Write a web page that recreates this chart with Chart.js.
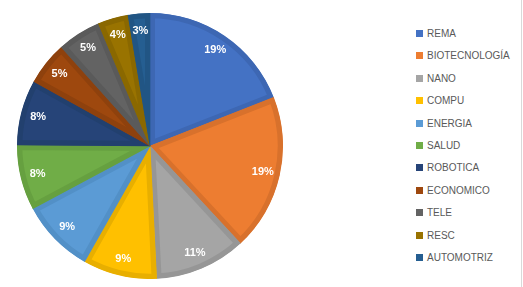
<!DOCTYPE html>
<html>
<head>
<meta charset="utf-8">
<script src="https://cdn.jsdelivr.net/npm/chart.js@4"></script>
<style>
  html, body { margin: 0; padding: 0; background: #fff; }
  #wrap { position: relative; width: 523px; height: 287px; overflow: hidden; }
  #wrap:after { content: ''; position: absolute; left: 521px; top: 0; width: 1px; height: 287px; background: #d9d9d9; }
  #pie { position: absolute; left: 17px; top: 13px; width: 266px; height: 266px; }
  #leyenda { position: absolute; left: 416px; top: 27px; font-family: 'Liberation Sans', Arial, sans-serif; font-size: 10px; color: #595959; }
  #leyenda div { height: 22.4px; line-height: 14px; white-space: nowrap; }
  #leyenda span { display: inline-block; width: 7px; height: 7px; margin-right: 4px; vertical-align: 0px; }
</style>
</head>
<body>
<div id="wrap">
  <canvas id="pie" width="266" height="266"></canvas>
  <div id="leyenda"></div>
</div>
<script>
// áreas y número de proyectos
const areas = ['REMA', 'BIOTECNOLOGÍA', 'NANO', 'COMPU', 'ENERGIA', 'SALUD', 'ROBOTICA', 'ECONOMICO', 'TELE', 'RESC', 'AUTOMOTRIZ'];
const proyectos = [36, 36, 21, 17, 17, 15, 15, 10, 10, 7, 5];
const colores = ['#4472c4', '#ed7d31', '#a5a5a5', '#ffc000', '#5b9bd5', '#70ad47', '#264478', '#9e480e', '#636363', '#997300', '#255e91'];
const bordes = ['#3d67b3', '#d8712c', '#969696', '#e8af00', '#5290c7', '#66a040', '#22406e', '#8e410d', '#5a5a5a', '#8a6800', '#215584'];

const total = proyectos.reduce((a, b) => a + b, 0);

// etiquetas de porcentaje dentro de cada sector
const etiquetasPct = {
  id: 'etiquetasPct',
  afterDatasetsDraw(chart) {
    const { ctx } = chart;
    const meta = chart.getDatasetMeta(0);
    ctx.save();
    ctx.fillStyle = '#ffffff';
    ctx.font = 'bold 11px "Liberation Sans", Arial, sans-serif';
    ctx.textAlign = 'center';
    ctx.textBaseline = 'middle';
    meta.data.forEach((arc, i) => {
      const mid = (arc.startAngle + arc.endAngle) / 2;
      const r = arc.outerRadius * 0.87;
      const x = arc.x + Math.cos(mid) * r;
      const y = arc.y + Math.sin(mid) * r;
      ctx.fillText(Math.round(proyectos[i] / total * 100) + '%', x, y);
    });
    ctx.restore();
  },
};

new Chart(document.getElementById('pie'), {
  type: 'pie',
  data: {
    labels: areas,
    datasets: [{
      data: proyectos,
      backgroundColor: colores,
      borderColor: bordes,
      borderWidth: 5,
      borderAlign: 'inner',
    }],
  },
  options: {
    responsive: false,
    animation: false,
    layout: { padding: 0 },
    plugins: {
      legend: { display: false },
      tooltip: { enabled: false },
    },
  },
  plugins: [etiquetasPct],
});

const leyenda = document.getElementById('leyenda');
areas.forEach((a, i) => {
  const d = document.createElement('div');
  d.innerHTML = '<span style="background:' + colores[i] + '"></span>' + a;
  leyenda.appendChild(d);
});
</script>
</body>
</html>
